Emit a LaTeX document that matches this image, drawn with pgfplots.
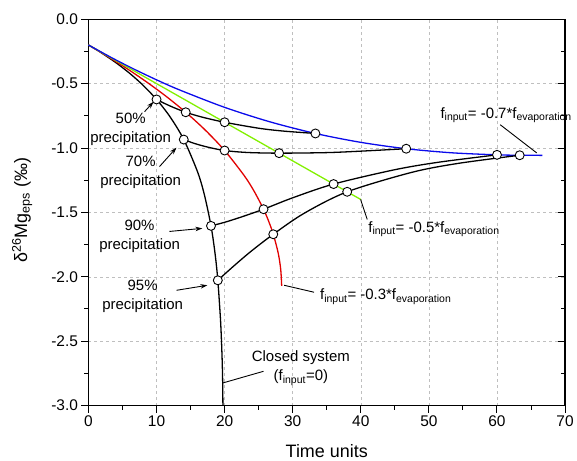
\documentclass[border=0pt]{standalone}
\usepackage{fontspec}
\setmainfont{Liberation Sans}
\usepackage{pgfplots}
\pgfplotsset{compat=1.18}
\usetikzlibrary{arrows.meta}
\definecolor{cred}{RGB}{225,0,0}
\definecolor{cgreen}{RGB}{130,240,0}
\definecolor{cblue}{RGB}{10,10,235}
\begin{document}
\begin{tikzpicture}
\begin{axis}[name=ax, width=478pt, height=387.4pt, scale only axis,
  xmin=0, xmax=70, ymin=-3, ymax=0,
  xtick={0,10,20,30,40,50,60,70},
  ytick={-3,-2.5,-2,-1.5,-1,-0.5,0},
  minor x tick num=1, minor y tick num=1,
  xtick pos=bottom, ytick pos=left, tick align=outside,
  major tick length=7pt, minor tick length=4pt,
  yticklabel style={/pgf/number format/fixed,/pgf/number format/fixed zerofill,/pgf/number format/precision=1},
  /pgf/number format/assume math mode=true,
  tick label style={font=\fontsize{15.5}{18}\selectfont},
  grid=major, major grid style={gray!50, dash pattern=on 3pt off 3pt, line width=0.5pt},
  axis line style={line width=1.2pt},
  every tick/.style={black, line width=1pt},
  clip=false,
  xlabel={Time units},
  ylabel={δ\textsuperscript{26}Mg\textsubscript{eps} (‰)},
  label style={font=\fontsize{18}{21}\selectfont},
  xlabel style={at={(axis description cs:0.5,-0.117)}, anchor=center},
  ylabel style={at={(axis description cs:-0.139,0.506)}, anchor=center},
]
% closed system
\addplot[black, line width=1.3pt, smooth] coordinates {
(0,-0.2) (1,-0.2313) (2,-0.2643) (4,-0.3361) (6,-0.4176) (8,-0.5116) (10,-0.6228)
(12,-0.7589) (14,-0.9344) (16,-1.1817) (17,-1.3572) (18,-1.6046) (18.6,-1.8222)
(19,-2.0274) (19.4,-2.3390) (19.6,-2.5863) (19.7,-2.78) (19.75,-3.0)};
% f_input = -0.3 f_evap
\addplot[cred, line width=1.3pt, smooth] coordinates {
(0,-0.2) (2.857,-0.2898) (5.714,-0.3854) (8.571,-0.4882) (11.429,-0.5997) (14.286,-0.7225)
(17.143,-0.8603) (20,-1.0195) (22.857,-1.2131) (24.286,-1.3315) (25.714,-1.4752)
(26.571,-1.5829) (27.143,-1.6699) (27.714,-1.7806) (28.0,-1.8528) (28.25,-1.95) (28.38,-2.07)};
% f_input = -0.5 f_evap
\addplot[cgreen, line width=1.3pt] coordinates {(0,-0.2) (40,-1.4)};
% f_input = -0.7 f_evap
\addplot[cblue, line width=1.3pt, smooth] coordinates {
(0,-0.2) (3.333,-0.2967) (6.667,-0.3868) (10,-0.4705) (13.333,-0.5479) (20,-0.6843)
(26.667,-0.7969) (33.333,-0.8871) (40,-0.9561) (46.667,-1.0055) (53.333,-1.0371)
(60,-1.0531) (63.333,-1.0562) (66.667,-1.0571)};
% iso-precipitation lines
\addplot[black, line width=1.3pt, smooth] coordinates {
(10,-0.6228) (11.111,-0.6522) (12.5,-0.6853) (14.286,-0.7225) (16.667,-0.7597) (20,-0.8)
(25,-0.8464) (28.571,-0.8683) (33.333,-0.8871)};
\addplot[black, line width=1.3pt, smooth] coordinates {
(14,-0.9344) (15.556,-0.9644) (17.5,-0.9928) (20,-1.0195) (23.333,-1.0347) (28,-1.04)
(35,-1.0357) (40,-1.0244) (46.667,-1.0055)};
\addplot[black, line width=1.3pt, smooth] coordinates {
(18,-1.6046) (20,-1.5770) (22.5,-1.5349) (25.714,-1.4752) (30,-1.3866) (36,-1.28)
(45,-1.1684) (51.429,-1.1103) (60,-1.0531)};
\addplot[black, line width=1.3pt, smooth] coordinates {
(19,-2.0274) (21.111,-1.9272) (23.75,-1.8077) (27.143,-1.6699) (31.667,-1.5072) (38,-1.34)
(47.5,-1.1888) (54.286,-1.1195) (63.333,-1.0562)};
% markers
\addplot[only marks, mark=*, mark size=4.5pt, mark options={fill=white, draw=black, line width=0.9pt}] coordinates {
(10,-0.6228) (14,-0.9344) (18,-1.6046) (19,-2.0274)
(14.286,-0.7225) (20,-1.0195) (25.714,-1.4752) (27.143,-1.6699)
(20,-0.8) (28,-1.04) (36,-1.28) (38,-1.34)
(33.333,-0.8871) (46.667,-1.0055) (60,-1.0531) (63.333,-1.0562)};
% annotations
\begin{scope}[every node/.style={font=\fontsize{15}{19}\selectfont, align=center}]
\node at (axis cs:6.2,-0.854) {50\%\\precipitation};
\node at (axis cs:7.66,-1.187) {70\%\\precipitation};
\node at (axis cs:7.51,-1.686) {90\%\\precipitation};
\node at (axis cs:7.96,-2.155) {95\%\\precipitation};
\node at (axis cs:31.2,-2.71) {Closed system\\(f\textsubscript{input}=0)};
\node[anchor=base west, inner sep=0pt] at (axis cs:34.0,-2.178) {f\textsubscript{input}= -0.3*f\textsubscript{evaporation}};
\node[anchor=base west, inner sep=0pt] at (axis cs:41.08,-1.653) {f\textsubscript{input}= -0.5*f\textsubscript{evaporation}};
\node[anchor=base west, inner sep=0pt] at (axis cs:51.68,-0.767) {f\textsubscript{input}= -0.7*f\textsubscript{evaporation}};
\end{scope}
\begin{scope}[line width=0.9pt, -{Stealth[length=7pt,width=4.5pt]}]
\draw (axis cs:8.24,-0.718) -- (axis cs:9.56,-0.641);
\draw (axis cs:10.44,-1.144) -- (axis cs:12.93,-0.997);
\draw (axis cs:11.9,-1.648) -- (axis cs:16.73,-1.624);
\draw (axis cs:12.93,-2.105) -- (axis cs:17.47,-2.066);
\end{scope}
\begin{scope}[line width=0.9pt]
\draw (axis cs:19.71,-2.825) -- (axis cs:25.71,-2.734);
\draw (axis cs:28.74,-2.066) -- (axis cs:33.13,-2.12);
\draw (axis cs:39.97,-1.40) -- (axis cs:40.94,-1.555);
\draw (axis cs:60.47,-0.819) -- (axis cs:65.83,-1.038);
\end{scope}
\end{axis}
\begin{axis}[at={(ax.south west)}, anchor=south west, width=478pt, height=387.4pt, scale only axis,
  xmin=0, xmax=70, ymin=-3, ymax=0,
  xtick=\empty, ytick={-3,-2.5,-2,-1.5,-1,-0.5,0}, minor y tick num=1,
  yticklabels={}, ytick pos=right, tick align=inside,
  major tick length=7pt, minor tick length=4pt,
  every tick/.style={black, line width=1pt},
  axis line style={draw=none}]
\end{axis}
\path (ax.south west) ++(-88.7pt,-54.3pt) coordinate (bl);
\path (ax.north east) ++(10.3pt,19.3pt) coordinate (tr);
\path (bl) rectangle (tr);
\end{tikzpicture}
\end{document}
